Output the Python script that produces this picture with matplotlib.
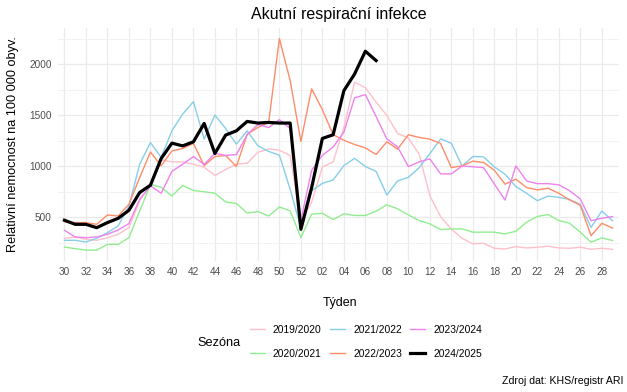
import matplotlib
matplotlib.use("Agg")
import matplotlib.pyplot as plt
from matplotlib.lines import Line2D
from matplotlib.ticker import MultipleLocator

plt.rcParams['font.family'] = ['Liberation Sans', 'DejaVu Sans']

weeks = [f"{w:02d}" for w in list(range(30, 53)) + list(range(1, 30))]

s2019 = [292, 306, 283, 273, 299, 332, 398, 660, 824, 1063, 1043, 1043, 1020, 990, 910, 968,
         1020, 1030, 1138, 1170, 1157, 1105, 460, 648, 992, 1042, 1380, 1826, 1770, 1630, 1498,
         1322, 1277, 1120, 710, 505, 383, 293, 238, 244, 195, 188, 211, 198, 205, 215, 198, 195,
         205, 185, 195, 185]
s2020 = [207, 191, 178, 176, 233, 233, 299, 561, 820, 795, 708, 812, 762, 750, 735, 650, 635,
         540, 555, 512, 600, 562, 300, 530, 538, 477, 533, 517, 517, 559, 622, 582, 523, 467,
         435, 379, 385, 385, 353, 353, 353, 336, 362, 451, 507, 526, 467, 441, 353, 254, 297, 271]
s2021 = [273, 273, 256, 292, 348, 414, 610, 1020, 1233, 1086, 1348, 1512, 1634, 1266, 1502, 1371,
         1217, 1348, 1201, 1145, 1109, 774, 397, 760, 832, 865, 1006, 1078, 997, 949, 718, 856,
         891, 985, 1124, 1268, 1226, 1000, 1096, 1092, 994, 921, 801, 735, 662, 708, 695, 675,
         625, 400, 560, 465]
s2022 = [455, 447, 447, 430, 522, 512, 627, 889, 1140, 1004, 1151, 1174, 1224, 1006, 1096, 1105,
         998, 1313, 1381, 1428, 2253, 1842, 1244, 1760, 1555, 1310, 1255, 1213, 1180, 1115, 1240,
         1168, 1309, 1283, 1266, 1224, 987, 1004, 1050, 1037, 961, 824, 873, 791, 768, 784, 735,
         670, 617, 318, 440, 393]
s2023 = [371, 306, 299, 306, 332, 375, 437, 676, 807, 735, 950, 1020, 1095, 1017, 1127, 1106,
         1115, 1310, 1410, 1380, 1457, 1370, 470, 960, 1107, 1189, 1335, 1672, 1703, 1487, 1268,
         1190, 997, 1043, 1072, 925, 925, 1002, 995, 987, 826, 668, 1003, 856, 829, 829, 818,
         760, 678, 465, 490, 506]
s2024 = [470, 430, 430, 397, 447, 489, 568, 742, 814, 1076, 1227, 1200, 1240, 1420, 1125, 1306,
         1348, 1440, 1424, 1430, 1424, 1424, 381, 791, 1273, 1309, 1742, 1906, 2129, 2037]

seasons = ["2019/2020", "2020/2021", "2021/2022", "2022/2023", "2023/2024", "2024/2025"]
series = [s2019, s2020, s2021, s2022, s2023, s2024]
colors = ["#FFC0CB", "#90EE90", "#87CEEB", "#FF8C69", "#EE82EE", "#000000"]
widths = [1.0, 1.0, 1.0, 1.0, 1.0, 2.3]

W, H = 627, 392
fig = plt.figure(figsize=(W/100, H/100), dpi=100)
ax = fig.add_axes([58/W, 1-261/H, (619-58)/W, (261-27.7)/H])

x = list(range(len(weeks)))
handles = []
for name, vals, c, lw in zip(seasons, series, colors, widths):
    ax.plot(x[:len(vals)], vals, color=c, lw=lw, zorder=3 if c == "#000000" else 2)
    handles.append(Line2D([], [], color=c, lw=lw))

ax.set_xlim(-0.6, len(weeks) - 1 + 0.6)
ax.set_ylim(70, 2360)
ax.set_xticks(x[::2])
ax.set_xticklabels(weeks[::2])
ax.yaxis.set_minor_locator(MultipleLocator(250))
ax.set_yticks([500, 1000, 1500, 2000])
ax.grid(which='major', color='#EBEBEB', lw=0.9, zorder=0)
ax.grid(which='minor', axis='y', color='#F0F0F0', lw=0.6, zorder=0)
ax.set_axisbelow(True)
for s in ax.spines.values():
    s.set_visible(False)
ax.tick_params(which='both', length=0, labelsize=7.2, colors='#4D4D4D', pad=4.5)

fig.text(338.5/W, 1-15/H, "Akutní respirační infekce", fontsize=11.5, ha='center', va='center')
fig.text(340/W, 1-303/H, "Týden", fontsize=9, ha='center', va='center')
fig.text(13/W, 1-144/H, "Relativní nemocnost na 100 000 obyv.", fontsize=9.2,
         rotation=90, ha='center', va='center')

fig.legend(handles, seasons, ncol=3, frameon=False, fontsize=7.4,
           loc='center', bbox_to_anchor=(366/W, 1-342/H), borderaxespad=0, borderpad=0,
           handlelength=1.46, handletextpad=0.78, columnspacing=0.82, labelspacing=1.35)
fig.text(241/W, 1-342.7/H, "Sezóna", fontsize=9.2, ha='right', va='center')
fig.text(624/W, 1-380.7/H, "Zdroj dat: KHS/registr ARI", fontsize=7.6, ha='right', va='center')

fig.savefig("out.png", dpi=100)
